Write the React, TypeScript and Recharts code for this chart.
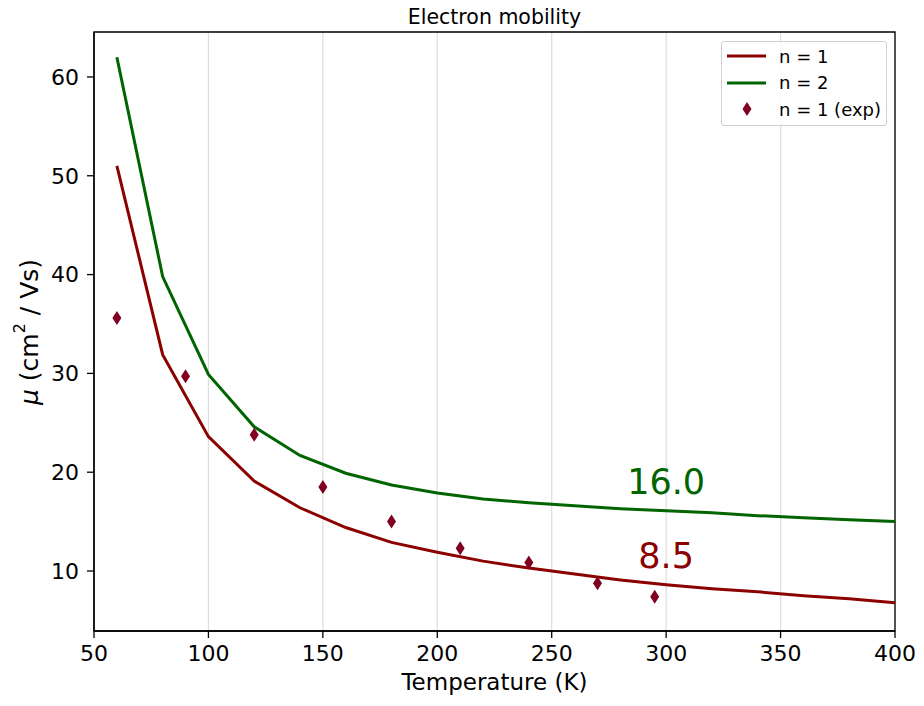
import {
  ComposedChart, Line, Scatter, XAxis, YAxis, CartesianGrid, ReferenceArea, ReferenceDot, Label, Legend,
} from "recharts";

const FONT = "'DejaVu Sans', sans-serif";
const RED = "#8b0000";
const GREEN = "#006400";
const EXP = "#800020";

const TEMPS = [60, 80, 100, 120, 140, 160, 180, 200, 220, 240, 260, 280, 300, 320, 340, 360, 380, 400];
const N1 = [51, 31.9, 23.6, 19.1, 16.4, 14.4, 12.9, 11.9, 11.0, 10.3, 9.7, 9.1, 8.6, 8.2, 7.9, 7.5, 7.2, 6.8];
const N2 = [62, 39.8, 29.9, 24.6, 21.7, 19.9, 18.7, 17.9, 17.3, 16.9, 16.6, 16.3, 16.1, 15.9, 15.6, 15.4, 15.2, 15.0];
const EXP_T = [60, 90, 120, 150, 180, 210, 240, 270, 295];
const EXP_MU = [35.6, 29.7, 23.8, 18.5, 15.0, 12.3, 10.85, 8.75, 7.4];
const X_TICKS = [50, 100, 150, 200, 250, 300, 350, 400];
const Y_TICKS = [10, 20, 30, 40, 50, 60];
const X_DOMAIN = [50, 400];
const Y_DOMAIN = [3.93, 64.55];

const n1Data = TEMPS.map((t, i) => ({ t, mu: N1[i] }));
const n2Data = TEMPS.map((t, i) => ({ t, mu: N2[i] }));
const expData = EXP_T.map((t, i) => ({ t, mu: EXP_MU[i] }));

const Diamond = (p: any) => {
  const { cx, cy } = p;
  return <path d={`M${cx},${cy - 7}L${cx + 4.5},${cy}L${cx},${cy + 7}L${cx - 4.5},${cy}Z`} fill={EXP} />;
};

const YLabel = () => (
  <text x={29} y={332} transform="rotate(-90 29 332)" textAnchor="middle" dominantBaseline="central" fontFamily={FONT} fontSize={25} fill="#000">
    <tspan fontStyle="italic">μ</tspan>
    <tspan> (cm</tspan>
    <tspan fontSize={16} dy={-10}>2</tspan>
    <tspan dy={10}> / Vs)</tspan>
  </text>
);

const LegendBox = () => (
  <div style={{ position: "absolute", left: 721, top: 41, width: 166, height: 85, border: "1px solid #d0d0d0", borderRadius: 3, background: "rgba(255,255,255,0.85)", fontFamily: FONT, fontSize: 18, boxSizing: "border-box" }}>
    {[
      { label: "n = 1", kind: "line", color: RED },
      { label: "n = 2", kind: "line", color: GREEN },
      { label: "n = 1 (exp)", kind: "dot", color: EXP },
    ].map((e, i) => (
      <div key={i} style={{ position: "absolute", left: 0, top: 4 + i * 26.5, height: 20, display: "flex", alignItems: "center", whiteSpace: "nowrap" }}>
        <svg width={56} height={20}>
          {e.kind === "line"
            ? <line x1={5} x2={44} y1={10} y2={10} stroke={e.color} strokeWidth={3} />
            : <path d="M25,3L29.5,10L25,17L20.5,10Z" fill={e.color} />}
        </svg>
        <span style={{ marginLeft: 1 }}>{e.label}</span>
      </div>
    ))}
  </div>
);

export default function App() {
  return (
    <div style={{ position: "absolute", left: 0, top: 0, width: 924, height: 706, background: "#fff" }}>
      <div style={{ position: "absolute", left: 94, width: 801, top: 5, textAlign: "center", fontFamily: FONT, fontSize: 20.5, lineHeight: "24px" }}>Electron mobility</div>
      <ComposedChart width={924} height={706} margin={{ top: 32, right: 29, left: 0, bottom: 0 }}>
        <CartesianGrid horizontal={false} stroke="#dddddd" strokeWidth={1.2} />
        <XAxis type="number" dataKey="t" domain={X_DOMAIN} ticks={X_TICKS} allowDataOverflow height={75}
          tick={{ fontSize: 22, fill: "#000", fontFamily: FONT }} tickSize={7} tickMargin={7}
          stroke="#000" strokeWidth={1.3}>
          <Label value="Temperature (K)" position="insideBottom" offset={16} style={{ fontSize: 23, fill: "#000", fontFamily: FONT }} />
        </XAxis>
        <YAxis type="number" dataKey="mu" domain={Y_DOMAIN} ticks={Y_TICKS} allowDataOverflow width={94}
          tick={{ fontSize: 22, fill: "#000", fontFamily: FONT }} tickSize={7} tickMargin={8}
          stroke="#000" strokeWidth={1.3}>
          <Label content={<YLabel />} />
        </YAxis>
        <ReferenceArea x1={50} x2={400} y1={Y_DOMAIN[0]} y2={Y_DOMAIN[1]} fill="none" stroke="#000" strokeWidth={1.3} ifOverflow="visible" />
        <Line data={n1Data} dataKey="mu" stroke={RED} strokeWidth={3} dot={false} isAnimationActive={false} />
        <Line data={n2Data} dataKey="mu" stroke={GREEN} strokeWidth={3} dot={false} isAnimationActive={false} />
        <Scatter data={expData} dataKey="mu" fill={EXP} shape={<Diamond />} isAnimationActive={false} />
        <ReferenceDot x={300} y={19.1} r={0} label={{ value: "16.0", position: "center", fill: GREEN, fontSize: 35, fontFamily: FONT }} />
        <ReferenceDot x={300} y={11.6} r={0} label={{ value: "8.5", position: "center", fill: RED, fontSize: 35, fontFamily: FONT }} />
        <Legend content={() => null} />
      </ComposedChart>
      <LegendBox />
    </div>
  );
}
